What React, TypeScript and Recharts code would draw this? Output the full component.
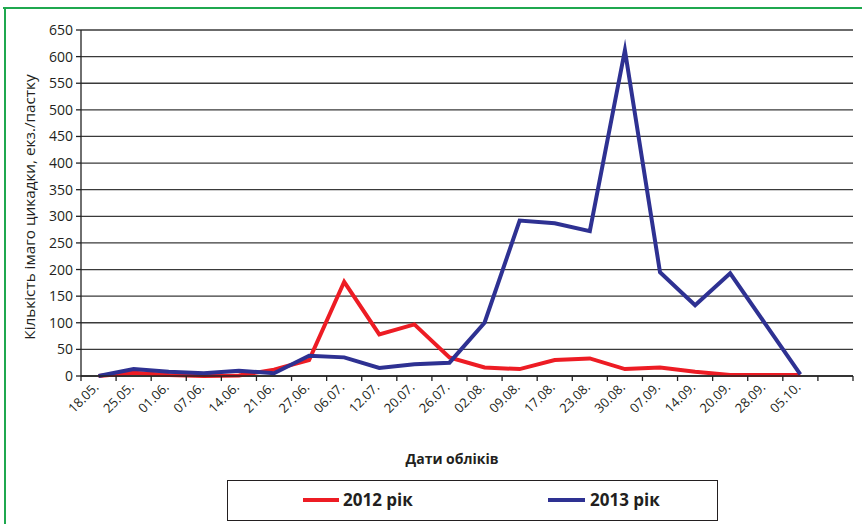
import { LineChart, Line, XAxis, YAxis, CartesianGrid } from 'recharts';

const dates = ['18.05.', '25.05.', '01.06.', '07.06.', '14.06.', '21.06.', '27.06.', '06.07.', '12.07.', '20.07.', '26.07.',
    '02.08.', '09.08.', '17.08.', '23.08.', '30.08.', '07.09.', '14.09.', '20.09.', '28.09.', '05.10.', ''];
const y2012 = [0, 6, 2, 0, 1, 12, 30, 177, 78, 97, 35, 16, 13, 30, 33, 13, 16, 8, 2, 2, 2];
const y2013 = [0, 13, 8, 5, 10, 5, 38, 35, 15, 22, 25, 100, 292, 287, 272, 612, 195, 133, 193, 98, 3];
const yTicks = [0, 50, 100, 150, 200, 250, 300, 350, 400, 450, 500, 550, 600, 650];

const data = dates.map((d, i) => ({
    date: d,
    r2012: i < y2012.length ? y2012[i] : null,
    r2013: i < y2013.length ? y2013[i] : null,
}));

const FONT = '"Open Sans", sans-serif';
const AXIS_Y = 376;

function DateTick(props: any) {
    const { x, payload, index } = props;
    const off = payload.offset ?? 17.5;
    const last = index === dates.length - 1;
    return (
        <g>
            <line x1={x - off} y1={AXIS_Y} x2={x - off} y2={AXIS_Y + 5} stroke="#222" strokeWidth={1.3} />
            {last && <line x1={x + off} y1={AXIS_Y} x2={x + off} y2={AXIS_Y + 5} stroke="#222" strokeWidth={1.3} />}
            <text x={x + 1} y={AXIS_Y + 12} textAnchor="end" transform={`rotate(-45, ${x + 1}, ${AXIS_Y + 12})`}
                fontFamily={FONT} fontSize={13} fill="#231f20">{payload.value}</text>
        </g>
    );
}

export default function App() {
    return (
        <div style={{ position: 'absolute', left: 0, top: 0, width: 862, height: 524, background: '#fff' }}>
            <div style={{ position: 'absolute', left: 3, top: 7, width: 859, height: 2, background: '#1fa84f' }} />
            <div style={{ position: 'absolute', left: 4, top: 7, width: 2, height: 517, background: '#1fa84f' }} />
            <LineChart width={862} height={524} data={data} margin={{ top: 30, right: 9, left: 31, bottom: 88 }}>
                <CartesianGrid vertical={false} stroke="#3a3a3a" strokeWidth={1.3} />
                <XAxis dataKey="date" scale="band" interval={0} height={60} tickLine={false}
                    axisLine={{ stroke: '#222', strokeWidth: 1.3 }} tick={<DateTick />} />
                <YAxis domain={[0, 650]} ticks={yTicks} width={50} interval={0}
                    axisLine={{ stroke: '#222', strokeWidth: 1.3 }} tickLine={{ stroke: '#222', strokeWidth: 1.3 }}
                    tickSize={5} tickMargin={3}
                    tick={{ fontFamily: FONT, fontSize: 14, fill: '#231f20' }} />
                <YAxis yAxisId="edge" orientation="right" domain={[0, 650]} width={0} tick={false} tickLine={false}
                    axisLine={{ stroke: '#888', strokeWidth: 1.3 }} />
                <Line dataKey="r2012" stroke="#ed1c24" strokeWidth={4} dot={false} isAnimationActive={false}
                    strokeLinejoin="miter" strokeMiterlimit={30} />
                <Line dataKey="r2013" stroke="#2e3192" strokeWidth={4} dot={false} isAnimationActive={false}
                    strokeLinejoin="miter" strokeMiterlimit={30} />
            </LineChart>
            <div style={{
                position: 'absolute', left: 29, top: 207, transform: 'translate(-50%, -50%) rotate(-90deg)',
                whiteSpace: 'nowrap', fontFamily: FONT, fontSize: 15.3, color: '#231f20'
            }}>Кількість імаго цикадки, екз./пастку</div>
            <div style={{
                position: 'absolute', left: 452, top: 458, transform: 'translate(-50%, -50%)',
                whiteSpace: 'nowrap', fontFamily: FONT, fontSize: 14, fontWeight: 700, color: '#231f20'
            }}>Дати обліків</div>
            <div style={{
                position: 'absolute', left: 227, top: 480, width: 489, height: 39, border: '1.5px solid #231f20',
                fontFamily: FONT, fontSize: 17, fontWeight: 700, color: '#231f20'
            }}>
                <div style={{ position: 'absolute', left: 75, top: 17, width: 36, height: 4, background: '#ed1c24' }} />
                <div style={{ position: 'absolute', left: 115, top: 7, lineHeight: '24px' }}>2012 рік</div>
                <div style={{ position: 'absolute', left: 320, top: 17, width: 37, height: 4, background: '#2e3192' }} />
                <div style={{ position: 'absolute', left: 362, top: 7, lineHeight: '24px' }}>2013 рік</div>
            </div>
        </div>
    );
}
